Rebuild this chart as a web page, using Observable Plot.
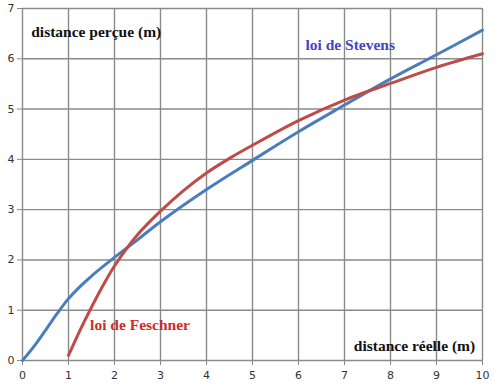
<!DOCTYPE html>
<html>
<head>
<meta charset="utf-8">
<script src="https://cdn.jsdelivr.net/npm/d3@7"></script>
<script src="https://cdn.jsdelivr.net/npm/@observablehq/plot@0.6"></script>
<style>
  html, body { margin: 0; padding: 0; background: #fff; }
  svg { display: block; }
</style>
</head>
<body>
<div id="chart"></div>
<script>
// Loi de Stevens (blue)
const stevensX = [0, 0.25, 0.5, 0.75, 1, 1.25, 1.5, 2, 2.5, 3, 4, 5, 6, 7, 8, 9, 10];
const stevensY = [0, 0.28, 0.6, 0.93, 1.23, 1.47, 1.68, 2.05, 2.4, 2.76, 3.4, 3.98, 4.55, 5.08, 5.6, 6.08, 6.57];
// Loi de Feschner (red)
const feschnerX = [1, 1.25, 1.5, 1.75, 2, 2.5, 3, 3.5, 4, 4.5, 5, 6, 7, 8, 9, 10];
const feschnerY = [0.1, 0.6, 1.06, 1.49, 1.88, 2.5, 2.97, 3.38, 3.73, 4.02, 4.28, 4.77, 5.18, 5.51, 5.83, 6.1];

const xTicks = [0, 1, 2, 3, 4, 5, 6, 7, 8, 9, 10];
const yTicks = [0, 1, 2, 3, 4, 5, 6, 7];

const labelTexts = ["distance perçue (m)", "loi de Stevens", "loi de Feschner", "distance réelle (m)"];
const labelX = [0.19, 6.15, 1.47, 9.84];
const labelY = [6.53, 6.27, 0.71, 0.29];
const labelColors = ["#111111", "#4444c4", "#d02a2a", "#111111"];
const labelAnchors = ["start", "start", "start", "end"];

const stevens = stevensX.map((x, i) => ({x, y: stevensY[i]}));
const feschner = feschnerX.map((x, i) => ({x, y: feschnerY[i]}));
const labels = labelTexts.map((t, i) => ({t, x: labelX[i], y: labelY[i], c: labelColors[i], a: labelAnchors[i]}));

const serif = "'Liberation Serif', 'Times New Roman', serif";

const plot = Plot.plot({
  width: 497,
  height: 386,
  marginLeft: 22,
  marginRight: 15,
  marginTop: 8,
  marginBottom: 26,
  style: {fontFamily: "'DejaVu Sans', Verdana, sans-serif", fontSize: "11px", color: "#333", background: "#fff"},
  x: {domain: [0, 10], label: null},
  y: {domain: [0, 7], label: null},
  marks: [
    Plot.ruleX(xTicks, {stroke: "#8a8a8a", strokeWidth: 1.4}),
    Plot.ruleY(yTicks, {stroke: "#8a8a8a", strokeWidth: 1.4}),
    Plot.axisX({ticks: xTicks, tickFormat: "d", tickSize: 5, tickPadding: 6, stroke: "#8a8a8a", label: null}),
    Plot.axisY({ticks: yTicks, tickFormat: "d", tickSize: 5, tickPadding: 3, stroke: "#8a8a8a", label: null}),
    Plot.line(stevens, {x: "x", y: "y", stroke: "#4a7ebb", strokeWidth: 3, curve: "catmull-rom"}),
    Plot.line(feschner, {x: "x", y: "y", stroke: "#be4b48", strokeWidth: 3, curve: "catmull-rom"}),
    Plot.text(labels.filter(d => d.a === "start"), {x: "x", y: "y", text: "t", fill: "c", textAnchor: "start",
      fontFamily: serif, fontWeight: "bold", fontSize: 15.5}),
    Plot.text(labels.filter(d => d.a === "end"), {x: "x", y: "y", text: "t", fill: "c", textAnchor: "end",
      fontFamily: serif, fontWeight: "bold", fontSize: 15.5})
  ]
});
document.getElementById("chart").appendChild(plot);
</script>
</body>
</html>
